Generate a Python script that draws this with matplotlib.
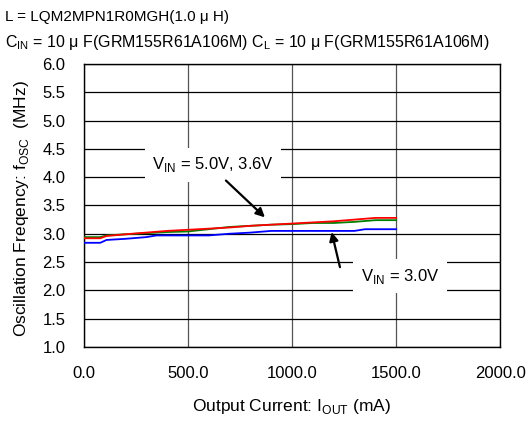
import matplotlib.pyplot as plt

plt.rcParams['font.family'] = ['Liberation Sans', 'DejaVu Sans']

# output current (mA) and oscillation frequency (MHz)
i_out = [0, 80, 110, 200, 300, 400, 500, 600, 700, 800, 900,
         1000, 1100, 1200, 1300, 1400, 1500]
f_50 = [2.92, 2.92, 2.96, 2.99, 3.02, 3.05, 3.07, 3.09, 3.11, 3.14, 3.16,
        3.18, 3.20, 3.22, 3.25, 3.28, 3.28]
f_36 = [2.94, 2.94, 2.97, 2.99, 3.01, 3.03, 3.04, 3.08, 3.12, 3.14, 3.16,
        3.17, 3.19, 3.19, 3.21, 3.24, 3.24]
i_out_30 = [0, 80, 110, 200, 300, 350, 500, 600, 700, 800, 900,
            1000, 1100, 1200, 1300, 1350, 1500]
f_30 = [2.84, 2.84, 2.89, 2.91, 2.94, 2.97, 2.97, 2.97, 3.00, 3.02, 3.05,
        3.05, 3.05, 3.05, 3.05, 3.08, 3.08]

x_ticks = [0, 500, 1000, 1500, 2000]
y_ticks = [1.0, 1.5, 2.0, 2.5, 3.0, 3.5, 4.0, 4.5, 5.0, 5.5, 6.0]

fig = plt.figure(figsize=(5.29, 4.21), dpi=100)
ax = fig.add_axes([0.158, 0.176, 0.788, 0.672])

ax.plot(i_out, f_36, color='#008000', lw=1.3, zorder=3)
ax.plot(i_out, f_50, color='#ff0000', lw=1.3, zorder=4)
ax.plot(i_out_30, f_30, color='#0000ff', lw=1.3, zorder=3)

ax.set_xlim(0, 2000)
ax.set_ylim(1.0, 6.0)
ax.set_xticks(x_ticks)
ax.set_xticklabels(['%.1f' % v for v in x_ticks])
ax.set_yticks(y_ticks)
ax.set_yticklabels(['%.1f' % v for v in y_ticks])
ax.tick_params(length=0, labelsize=12)
ax.tick_params(axis='y', pad=13)
ax.tick_params(axis='x', pad=14)
ax.grid(axis='y', color='black', lw=0.9)
ax.grid(axis='x', color='#555555', lw=0.9)
for s in ax.spines.values():
    s.set_color('black')
    s.set_linewidth(1.0)

ax.set_xlabel('Output Current: I$_{\\mathregular{OUT}}$ (mA)', fontsize=12.5, labelpad=11)
ax.set_ylabel('Oscillation Freqency: f$_{\\mathregular{OSC}}$  (MHz)', fontsize=12.5)
ax.yaxis.set_label_coords(-0.125, 0.49)

# annotation labels with white boxes, arrows drawn separately
box = dict(boxstyle='square,pad=0.45', fc='white', ec='none')
ax.text(621, 4.22, 'V$_{\\mathregular{IN}}$ = 5.0V, 3.6V', fontsize=12,
        ha='center', va='center', bbox=box, zorder=5)
ax.text(1518, 2.25, 'V$_{\\mathregular{IN}}$ = 3.0V', fontsize=12,
        ha='center', va='center', bbox=box, zorder=5)
arrow = dict(arrowstyle='-|>', color='black', lw=1.6, mutation_scale=13,
             shrinkA=0, shrinkB=0)
ax.annotate('', xy=(870, 3.29), xytext=(683, 3.94), arrowprops=arrow, zorder=6)
ax.annotate('', xy=(1190, 3.03), xytext=(1230, 2.41), arrowprops=arrow, zorder=6)

fig.text(0.01, 0.96, 'L = LQM2MPN1R0MGH(1.0 \u03bc H)', fontsize=11, va='center')
fig.text(0.01, 0.90, 'C$_{\\mathregular{IN}}$ = 10 \u03bc F(GRM155R61A106M) '
         'C$_{\\mathregular{L}}$ = 10 \u03bc F(GRM155R61A106M)', fontsize=11.5, va='center')

fig.savefig('out.png', dpi=100)
